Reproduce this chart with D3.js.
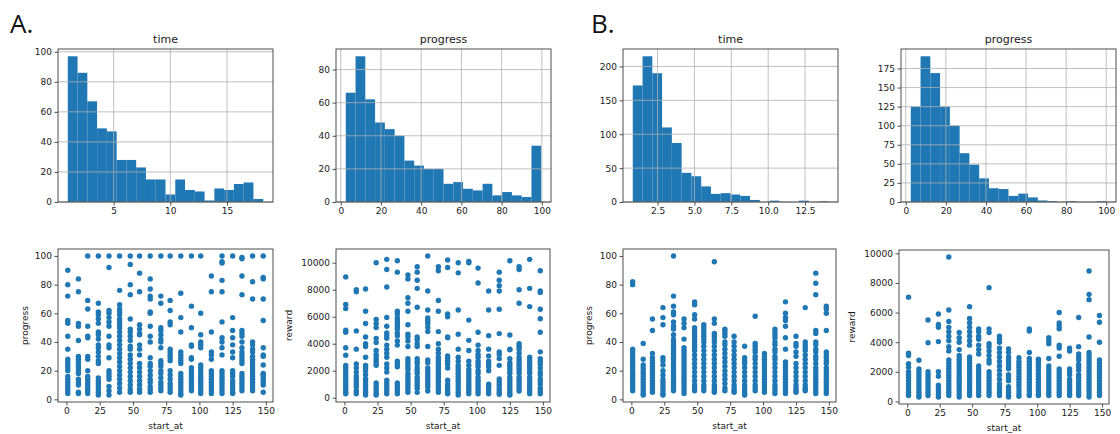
<!DOCTYPE html>
<meta charset="utf-8">
<script src="https://d3js.org/d3.v7.min.js"></script>
<style>
body { margin: 0; background: #fff; }
text { font-family: "DejaVu Sans", sans-serif; fill: #1a1a1a; }
.tick text { font-size: 9px; }
.tick line { stroke: #262626; stroke-width: 0.8px; }
.domain { display: none; }
.frame { fill: none; stroke: #3a3a3a; stroke-width: 0.9px; }
.grid line { stroke: #b0b0b0; stroke-width: 0.8px; }
.letter { font-family: "Open Sans", sans-serif; font-size: 26px; fill: #111; }
</style>
<body>
<script>

// ---- histogram data (20 bins between first and last edge) ----
var timeA_edges = [0.95, 18.2];
var timeA_counts = [97, 86, 67, 49, 47, 28, 28, 23, 15, 15, 5, 15, 8, 7, 1, 9, 8, 12, 13, 2];

var progA_edges = [2.5, 99.7];
var progA_counts = [66, 88, 62, 48, 44, 40, 25, 22, 20, 20, 11, 12, 8, 7, 11, 4, 6, 4, 3, 34];

var timeB_edges = [0.82, 14.07];
var timeB_counts = [172, 215, 190, 110, 87, 43, 38, 23, 12, 13, 11, 9, 3, 0, 2, 0, 0, 2, 0, 1];

var progB_edges = [2.5, 100];
var progB_counts = [125, 191, 169, 125, 100, 64, 49, 31, 18, 17, 8, 11, 6, 2, 1, 0, 1, 0, 0, 1];

// ---- scatter data: one list of y values per start_at column ----
var start_at = [1, 9, 16, 24, 32, 40, 48, 55, 63, 71, 78, 86, 94, 101, 109, 117, 125, 132, 140, 148];

var progA_pts = [
  [90, 80, 72, 55, 53, 44, 35, 28, 26, 24, 22, 20, 16, 14, 12, 10, 8, 6, 4],
  [84, 75, 53, 51, 41, 30, 28, 26, 24, 22, 20, 18, 14, 12, 10, 5, 4],
  [100, 69, 63, 51, 44, 43, 30, 28, 20, 16, 14, 12, 10, 8, 6, 4],
  [100, 67, 61, 59, 56, 53, 47, 45, 42, 38, 36, 33, 30, 27, 25, 15, 13, 11, 9, 7, 5, 3],
  [100, 92, 62, 60, 57, 54, 51, 44, 38, 36, 29, 20, 18, 16, 14, 9, 6, 3],
  [100, 76, 66, 63, 61, 59, 56, 54, 52, 50, 47, 44, 41, 38, 35, 32, 29, 26, 23, 20, 17, 14, 11, 8, 5],
  [100, 94, 80, 73, 56, 49, 47, 44, 41, 37, 35, 31, 28, 25, 22, 19, 16, 13, 10, 7, 5],
  [100, 88, 75, 52, 49, 46, 45, 38, 35, 31, 25, 22, 19, 16, 13, 10, 7, 5],
  [100, 84, 77, 72, 70, 61, 60, 51, 44, 40, 29, 25, 23, 20, 17, 14, 12, 9, 7, 5],
  [100, 72, 67, 50, 48, 45, 42, 40, 36, 27, 25, 23, 20, 18, 15, 12, 10, 8, 6],
  [100, 69, 62, 54, 52, 35, 33, 31, 29, 27, 20, 17, 14, 11, 9, 7, 5],
  [100, 74, 57, 47, 33, 31, 29, 27, 25, 18, 16, 14, 12, 10, 8, 6, 4, 3],
  [100, 65, 50, 38, 37, 29, 28, 22, 20, 18, 16, 14, 12, 10, 8, 6],
  [100, 60, 45, 40, 38, 36, 24, 22, 20, 18, 16, 14, 12, 10, 8, 6, 4],
  [86, 75, 47, 33, 31, 28, 20, 18, 16, 14, 12, 10, 8, 6, 4],
  [100, 96, 95, 83, 75, 54, 43, 40, 36, 31, 20, 18, 16, 14, 12, 10, 8, 6, 4],
  [100, 57, 48, 43, 38, 33, 29, 20, 18, 16, 13, 11, 9, 7, 5, 4],
  [99, 98, 86, 73, 48, 46, 44, 40, 36, 33, 31, 29, 27, 25, 18, 16, 14, 12, 10, 8, 6],
  [100, 82, 70, 40, 38, 35, 33, 30, 28, 26, 24, 22, 20, 18, 16, 14, 12, 10, 8, 6],
  [100, 85, 84, 70, 55, 36, 31, 30, 24, 18, 17, 16, 14, 12, 10, 5]
];

var rewardA_pts = [
  [8950, 6900, 6600, 5000, 4850, 3700, 3150, 2400, 2200, 2000, 1800, 1600, 1400, 1200, 1000, 800, 600, 400, 300],
  [8000, 7850, 4950, 3600, 2500, 2200, 1900, 1600, 1400, 1200, 1000, 800, 500, 300],
  [8050, 6400, 5500, 4500, 4000, 3800, 3000, 2400, 2200, 2000, 1700, 1400, 1200, 1000, 800, 600, 400, 200],
  [10000, 5800, 5500, 5200, 4400, 4100, 3500, 3200, 3000, 2800, 2600, 2400, 1100, 900, 700, 500, 300, 200],
  [10250, 9500, 8200, 5950, 5300, 4800, 4600, 4400, 3900, 3600, 3300, 3000, 2500, 2200, 1900, 1300, 1100, 900, 700, 500, 300],
  [10150, 9300, 6400, 6200, 5900, 5700, 5500, 5300, 5100, 4800, 4600, 4200, 3900, 2700, 2500, 2300, 1100, 900, 700, 500, 300],
  [9100, 8800, 7400, 7000, 6400, 5400, 4700, 4500, 4200, 3800, 2900, 2700, 2500, 2300, 2100, 1800, 1600, 1400, 1200, 1000, 800, 600, 400],
  [9700, 9300, 8700, 8100, 6700, 4500, 4300, 4000, 3800, 2900, 2700, 2500, 2200, 2000, 1800, 1500, 1300, 1100, 900, 700, 400],
  [10500, 7900, 6500, 5900, 5700, 5500, 5200, 4900, 3800, 2800, 2600, 2200, 2000, 1800, 1600, 1400, 1200, 1000, 800, 500],
  [9700, 9400, 7200, 6400, 4900, 4000, 3600, 3300, 3000, 2800, 2600, 2400, 2200, 2000, 1800, 1600, 1400, 1200, 1000, 800, 600, 400],
  [10200, 9650, 6200, 6000, 4500, 4450, 3100, 2900, 2700, 2500, 2200, 1300, 1000, 800, 600, 400, 300],
  [10000, 9250, 6500, 4700, 3600, 3000, 2700, 2400, 2200, 2000, 1800, 1600, 1400, 1200, 1000, 800, 600, 400, 200],
  [10100, 10000, 5750, 4250, 3500, 2700, 2400, 2100, 1900, 1700, 1500, 1300, 1100, 900, 700, 500, 300],
  [9600, 8500, 4850, 3900, 3500, 3200, 3000, 2700, 2500, 2300, 2000, 1800, 1500, 1300, 1100, 900, 700, 500, 300],
  [7900, 6500, 4600, 3600, 3100, 2700, 2500, 2300, 2000, 1000, 900, 700, 500, 300],
  [9300, 8700, 8300, 7900, 6550, 4750, 3400, 3200, 2900, 2400, 1400, 1200, 1000, 800, 600, 400, 250],
  [10150, 4650, 3600, 3550, 2900, 2600, 2400, 2200, 2000, 1800, 1500, 1300, 1100, 900, 700, 500, 300, 200],
  [9700, 9500, 8000, 7000, 4000, 3800, 3600, 3300, 3000, 2800, 2600, 2400, 2200, 2000, 1800, 1500, 1300, 1100, 900, 700, 500],
  [10250, 8100, 6750, 3000, 2800, 2600, 2400, 2200, 2000, 1800, 1500, 1300, 1100, 900, 700, 500, 300],
  [9400, 7900, 7800, 6550, 5850, 4850, 3400, 2900, 2700, 2500, 2200, 1900, 1700, 1400, 1200, 1000, 700, 500, 300]
];

var progB_pts = [
  [82, 80, 35, 33, 31, 29, 27, 25, 23, 21, 19, 17, 16, 14, 12, 10, 8, 6],
  [39, 28, 24, 22, 20, 18, 16, 14, 12, 10, 8, 6, 4, 3],
  [56, 48, 32, 29, 27, 25, 23, 21, 19, 17, 15, 13, 11, 9, 7, 5],
  [64, 57, 52, 29, 27, 24, 20, 17, 14, 12, 10, 8, 6, 4, 3],
  [100, 72, 65, 61, 59, 54, 51, 49, 45, 42, 40, 38, 36, 34, 32, 30, 28, 26, 24, 22, 20, 18, 16, 14, 12, 10, 8, 6],
  [56, 53, 50, 42, 36, 34, 32, 30, 28, 26, 24, 22, 20, 18, 16, 14, 12, 10, 8, 6, 4],
  [68, 66, 59, 56, 50, 48, 46, 44, 42, 40, 38, 36, 34, 31, 28, 25, 22, 19, 16, 13, 10, 8, 6],
  [52, 50, 48, 46, 44, 42, 40, 37, 34, 31, 28, 25, 22, 19, 16, 13, 10, 8, 6],
  [96, 56, 53, 46, 44, 42, 40, 37, 34, 31, 28, 25, 22, 19, 16, 13, 10, 8, 6, 5],
  [49, 48, 46, 44, 40, 38, 35, 32, 29, 26, 23, 20, 17, 14, 11, 8, 6],
  [44, 40, 37, 34, 31, 28, 25, 22, 19, 16, 13, 10, 8, 6, 5],
  [37, 29, 27, 25, 22, 19, 16, 13, 10, 8, 6, 4, 3],
  [58, 39, 37, 35, 33, 30, 28, 25, 22, 19, 16, 13, 10, 8, 6],
  [32, 30, 28, 26, 24, 22, 20, 18, 16, 14, 12, 10, 8, 6, 5],
  [49, 47, 45, 43, 40, 38, 35, 33, 30, 28, 25, 22, 19, 16, 13, 10, 8, 6, 4],
  [68, 60, 57, 55, 51, 43, 35, 26, 24, 22, 20, 18, 16, 14, 12, 10, 8, 6, 4],
  [44, 39, 37, 33, 30, 25, 22, 19, 16, 13, 10, 8, 6, 5],
  [64, 40, 38, 36, 34, 31, 28, 25, 22, 19, 16, 13, 10, 8, 7, 6],
  [88, 81, 73, 48, 46, 40, 38, 35, 33, 30, 28, 25, 22, 20, 18, 16, 14, 12, 10, 8, 6, 4],
  [65, 63, 60, 48, 33, 31, 29, 27, 25, 22, 20, 18, 16, 14, 12, 10, 8, 6, 4]
];

var rewardB_pts = [
  [7040, 3250, 3100, 2550, 2300, 2000, 1800, 1600, 1400, 1200, 1000, 800, 600, 400],
  [2780, 2200, 2000, 1800, 1600, 1400, 1200, 1000, 800, 600, 400, 300],
  [5500, 3960, 2000, 1800, 1600, 1400, 1200, 1000, 800, 600, 400],
  [5900, 5200, 5000, 4040, 2000, 1700, 1100, 900, 700, 500, 300],
  [9750, 6170, 5400, 5000, 4700, 4400, 4100, 3700, 3400, 2800, 2600, 2400, 2200, 2000, 1800, 1600, 1400, 1200, 1000, 800, 600, 400],
  [4650, 4300, 4000, 3500, 3100, 2900, 2700, 2500, 2300, 2100, 1900, 1700, 1500, 1300, 1100, 900, 700, 500, 300],
  [6400, 5600, 5300, 5000, 4700, 4400, 4100, 3800, 3000, 2800, 2600, 2400, 2200, 2000, 1800, 1600, 1400, 1200, 1000, 800, 600, 400],
  [4900, 4700, 4400, 4200, 3800, 3500, 3200, 2400, 2200, 2000, 1800, 1600, 1400, 1200, 1000, 800, 600, 400],
  [7680, 4900, 4650, 3900, 3700, 3400, 3100, 2800, 2600, 2000, 1800, 1600, 1400, 1200, 1000, 800, 600, 400],
  [4400, 4200, 4000, 3600, 3300, 3000, 2700, 2400, 2100, 1800, 1500, 1200, 1000, 800, 600, 400],
  [3550, 3300, 3000, 2800, 2600, 2400, 2200, 1800, 1600, 1400, 1000, 800, 600, 400, 300],
  [2950, 2700, 2500, 2300, 2100, 1900, 1700, 1500, 1300, 1100, 900, 700, 500, 350],
  [4900, 4750, 3300, 2900, 2700, 2500, 2300, 2100, 1900, 1700, 1500, 1300, 1100, 900, 700, 500, 400],
  [2850, 2700, 2500, 2300, 2100, 1900, 1700, 1500, 1300, 1100, 900, 700, 500, 400],
  [4300, 4100, 3900, 2900, 2400, 2200, 2000, 1800, 1600, 1400, 1200, 1000, 800, 600, 400],
  [6000, 5300, 5100, 4900, 3800, 3600, 3050, 2200, 2000, 1800, 1600, 1400, 1200, 1000, 800, 600, 400],
  [3600, 3400, 2200, 2000, 1800, 1500, 1300, 1100, 900, 700, 500, 400],
  [5670, 3700, 3200, 3000, 2800, 2500, 2300, 2100, 1800, 1600, 1400, 1200, 1000, 800, 600, 400],
  [8800, 7230, 6870, 4350, 3300, 3100, 2900, 2700, 2500, 2300, 2100, 1900, 1700, 1500, 1300, 1100, 900, 700, 500, 300],
  [5800, 5350, 4000, 2800, 2600, 2400, 2200, 2000, 1800, 1600, 1400, 1200, 1000, 800, 600, 400]
];

var width = 1120, height = 434;
var blue = "#1f77b4";

var svg = d3.select("body").append("svg")
    .attr("width", width)
    .attr("height", height);

svg.append("text").attr("class", "letter").attr("x", 10).attr("y", 33).text("A.");
svg.append("text").attr("class", "letter").attr("x", 591).attr("y", 33).text("B.");

function padded(lo, hi) {
  var m = (hi - lo) * 0.05;
  return [lo - m, hi + m];
}

function frame(g, b) {
  g.append("rect").attr("class", "frame")
    .attr("x", b.left).attr("y", b.top)
    .attr("width", b.right - b.left).attr("height", b.bottom - b.top);
}

function histPanel(b, title, edges, counts, xticks, yticks, xfmt) {
  var g = svg.append("g");
  var x = d3.scaleLinear().domain(padded(edges[0], edges[1])).range([b.left, b.right]);
  var y = d3.scaleLinear().domain([0, d3.max(counts) * 1.05]).range([b.bottom, b.top]);
  var w = (edges[1] - edges[0]) / counts.length;

  g.selectAll("rect.bar")
    .data(counts)
    .enter().append("rect")
    .attr("class", "bar")
    .attr("x", function(d, i) { return x(edges[0] + i * w); })
    .attr("width", function(d, i) { return x(edges[0] + (i + 1) * w) - x(edges[0] + i * w); })
    .attr("y", function(d) { return y(d); })
    .attr("height", function(d) { return y(0) - y(d); })
    .attr("fill", blue);

  // grid sits over the bars, like the pandas hist
  var grid = g.append("g").attr("class", "grid");
  grid.selectAll("line.gx").data(xticks).enter().append("line")
    .attr("x1", x).attr("x2", x).attr("y1", b.top).attr("y2", b.bottom);
  grid.selectAll("line.gy").data(yticks).enter().append("line")
    .attr("x1", b.left).attr("x2", b.right).attr("y1", y).attr("y2", y);

  g.append("g").attr("transform", "translate(0," + b.bottom + ")")
    .call(d3.axisBottom(x).tickValues(xticks).tickFormat(xfmt || d3.format("d")).tickSize(3.5).tickPadding(2.5));
  g.append("g").attr("transform", "translate(" + b.left + ",0)")
    .call(d3.axisLeft(y).tickValues(yticks).tickFormat(d3.format("d")).tickSize(3.5).tickPadding(2.5));

  frame(g, b);
  g.append("text").attr("x", (b.left + b.right) / 2).attr("y", b.top - 6)
    .attr("text-anchor", "middle").style("font-size", "11px").text(title);
}

function scatterPanel(b, ylabel, labelX, cols, yticks) {
  var g = svg.append("g");
  var pts = [];
  cols.forEach(function(c, i) {
    c.forEach(function(v) { pts.push({x: start_at[i], y: v}); });
  });
  var x = d3.scaleLinear().domain(padded(d3.min(start_at), d3.max(start_at))).range([b.left, b.right]);
  var yext = d3.extent(pts, function(d) { return d.y; });
  var y = d3.scaleLinear().domain(padded(yext[0], yext[1])).range([b.bottom, b.top]);

  g.selectAll("circle")
    .data(pts)
    .enter().append("circle")
    .attr("cx", function(d) { return x(d.x); })
    .attr("cy", function(d) { return y(d.y); })
    .attr("r", 2.7)
    .attr("fill", blue);

  g.append("g").attr("transform", "translate(0," + b.bottom + ")")
    .call(d3.axisBottom(x).tickValues([0, 25, 50, 75, 100, 125, 150]).tickFormat(d3.format("d")).tickSize(3.5).tickPadding(2.5));
  g.append("g").attr("transform", "translate(" + b.left + ",0)")
    .call(d3.axisLeft(y).tickValues(yticks).tickFormat(d3.format("d")).tickSize(3.5).tickPadding(2.5));

  frame(g, b);
  g.append("text").attr("x", (b.left + b.right) / 2).attr("y", b.bottom + 27)
    .attr("text-anchor", "middle").style("font-size", "9px").text("start_at");
  g.append("text")
    .attr("transform", "translate(" + labelX + "," + ((b.top + b.bottom) / 2) + ") rotate(-90)")
    .attr("text-anchor", "middle").style("font-size", "9px").text(ylabel);
}

var pct = [0, 20, 40, 60, 80, 100];
var rew = [0, 2000, 4000, 6000, 8000, 10000];

histPanel({left: 58, right: 273, top: 49, bottom: 202}, "time", timeA_edges, timeA_counts,
  [5, 10, 15], [0, 20, 40, 60, 80, 100]);
histPanel({left: 336, right: 551, top: 49, bottom: 202}, "progress", progA_edges, progA_counts,
  pct, [0, 20, 40, 60, 80]);
histPanel({left: 623, right: 838, top: 49, bottom: 202}, "time", timeB_edges, timeB_counts,
  [2.5, 5, 7.5, 10, 12.5], [0, 50, 100, 150, 200], d3.format(".1f"));
histPanel({left: 901, right: 1116, top: 49, bottom: 202}, "progress", progB_edges, progB_counts,
  pct, [0, 25, 50, 75, 100, 125, 150, 175]);

scatterPanel({left: 58, right: 273, top: 249, bottom: 402}, "progress", 28, progA_pts, pct);
scatterPanel({left: 336, right: 550, top: 249, bottom: 402}, "reward", 292, rewardA_pts, rew);
scatterPanel({left: 623, right: 836, top: 249, bottom: 402}, "progress", 592, progB_pts, pct);
scatterPanel({left: 899, right: 1109, top: 250, bottom: 404}, "reward", 855, rewardB_pts, rew);

</script>
</body>
